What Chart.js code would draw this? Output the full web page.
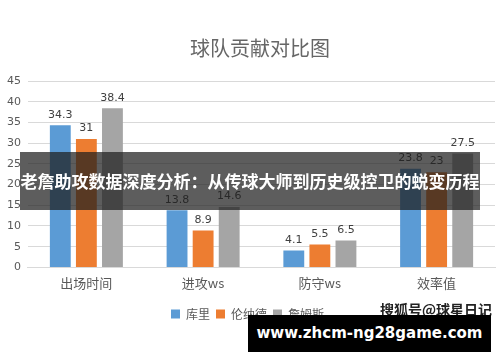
<!DOCTYPE html>
<html><head><meta charset="utf-8">
<script src="https://cdn.jsdelivr.net/npm/chart.js@4.4.1/dist/chart.umd.min.js"></script>
<style>
html,body{margin:0;padding:0;background:#fff;}
#wrap{position:relative;width:500px;height:362px;overflow:hidden;}
canvas{display:block;}
#banner{position:absolute;left:20px;top:152px;width:460px;height:58px;background:rgba(30,30,30,0.72);color:#fff;font-family:"Noto Sans CJK SC",sans-serif;font-weight:bold;font-size:17px;line-height:58px;text-align:center;white-space:nowrap;}
#src{position:absolute;left:380px;top:299px;color:#222;font-family:"Noto Sans CJK SC",sans-serif;font-weight:bold;font-size:14px;white-space:nowrap;}
#url{position:absolute;left:248px;top:315px;width:243px;height:37px;background:#000;color:#fff;font-family:"DejaVu Sans",sans-serif;font-weight:bold;font-size:15px;line-height:37px;text-align:center;white-space:nowrap;}
</style></head>
<body><div id="wrap"><canvas id="c" width="500" height="362"></canvas>
<div id="src">搜狐号@球星日记</div>
<div id="banner">老詹助攻数据深度分析：从传球大师到历史级控卫的蜕变历程</div>
<div id="url">www.zhcm-ng28game.com</div>
</div>
<script>
const titleText = "球队贡献对比图";
const categories = ["出场时间", "进攻ws", "防守ws", "效率值"];
const seriesNames = ["库里", "伦纳德", "詹姆斯"];
const curry = [34.3, 13.8, 4.1, 23.8];
const leonard = [31, 8.9, 5.5, 23];
const james = [38.4, 14.6, 6.5, 27.5];
const colors = ["#5B9BD5", "#ED7D31", "#A5A5A5"];
const yTicks = [0, 5, 10, 15, 20, 25, 30, 35, 40, 45];

const labelPlugin = {
  id: 'vals',
  afterDatasetsDraw(chart) {
    const ctx = chart.ctx;
    ctx.save();
    ctx.font = '11px "DejaVu Sans", sans-serif';
    ctx.fillStyle = '#404040';
    ctx.textAlign = 'center';
    ctx.textBaseline = 'bottom';
    chart.data.datasets.forEach((ds, i) => {
      chart.getDatasetMeta(i).data.forEach((bar, j) => {
        ctx.fillText(String(ds.data[j]), bar.x, bar.y - 5);
      });
    });
    ctx.restore();
  }
};
const titlePlugin = {
  id: 'ttl',
  afterDraw(chart) {
    const ctx = chart.ctx;
    ctx.save();
    ctx.font = '20px "Noto Sans CJK SC", sans-serif';
    ctx.fillStyle = '#666666';
    ctx.textAlign = 'center';
    ctx.textBaseline = 'middle';
    ctx.fillText(titleText, 260, 48);
    ctx.restore();
  }
};

new Chart(document.getElementById('c'), {
  type: 'bar',
  data: {
    labels: categories,
    datasets: [curry, leonard, james].map((d, i) => ({
      label: seriesNames[i], data: d, backgroundColor: colors[i],
      categoryPercentage: 0.67, barPercentage: 0.8
    }))
  },
  options: {
    responsive: false, animation: false,
    layout: { padding: { top: 81, left: 0, right: 5, bottom: 32 } },
    plugins: {
      title: { display: false },
      tooltip: { enabled: false },
      legend: {
        position: 'bottom',
        labels: { boxWidth: 9, boxHeight: 9, padding: 6, color: '#595959',
          font: { family: '"Noto Sans CJK SC", sans-serif', size: 12 } }
      }
    },
    scales: {
      x: {
        grid: { display: false },
        border: { color: '#d9d9d9' },
        afterFit(axis) { axis.height += 11; },
        ticks: { color: '#595959', font: { family: '"Noto Sans CJK SC", sans-serif', size: 13 }, padding: 0 }
      },
      y: {
        min: 0, max: 45,
        afterBuildTicks(axis) { axis.ticks = yTicks.map(v => ({ value: v })); },
        grid: { color: '#d9d9d9', drawTicks: false },
        border: { display: false },
        ticks: { color: '#595959', font: { family: '"DejaVu Sans", sans-serif', size: 11 }, padding: 7 }
      }
    }
  },
  plugins: [labelPlugin, titlePlugin]
});
</script></body></html>
